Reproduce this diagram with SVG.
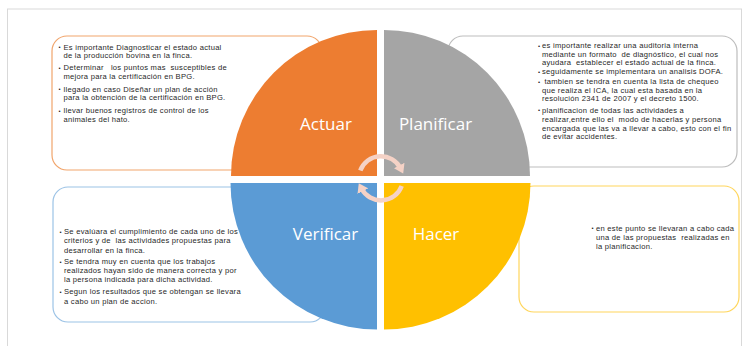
<svg xmlns="http://www.w3.org/2000/svg" width="743" height="346" viewBox="0 0 743 346">
<style>
.box{fill:#ffffff;stroke-width:1.2}
.t{font-family:"Liberation Sans",Arial,sans-serif;font-size:7.6px;letter-spacing:0.27px;fill:#1f1f1f}
.b{font-family:"Liberation Sans",Arial,sans-serif;font-size:6px;fill:#1f1f1f}
.lbl{font-family:"Open Sans","Liberation Sans",sans-serif;font-size:17px;fill:#ffffff;text-anchor:middle}
.cyc{fill:none;stroke:#f5d2c6;stroke-width:4.5}
</style>
<defs>
<marker id="ah" markerUnits="userSpaceOnUse" markerWidth="12" markerHeight="12" refX="3" refY="6" orient="auto">
<path d="M0,0 L9,6 L0,12 z" fill="#f5d2c6"/>
</marker>
</defs>
<rect x="7.5" y="9" width="734" height="345" fill="none" stroke="#d9d9d9" stroke-width="1"/>

<g id="box-actuar">
<rect class="box" x="52" y="36" width="270" height="134" rx="15" stroke="#f1a56c"/>
<text class="b"><tspan x="58.5" y="49">•</tspan><tspan x="58.5" y="69.5">•</tspan><tspan x="58.5" y="91">•</tspan><tspan x="58.5" y="112.5">•</tspan></text>
<text class="t">
<tspan x="63.5" y="49.5">Es importante Diagnosticar el estado actual</tspan>
<tspan x="63.5" y="58.3">de la producción bovina en la finca.</tspan>
<tspan x="63.5" y="70">Determinar&#160;&#160; los puntos mas&#160; susceptibles de</tspan>
<tspan x="63.5" y="78.8">mejora para la certificación en BPG.</tspan>
<tspan x="63.5" y="91.5">llegado en caso Diseñar un plan de acción</tspan>
<tspan x="63.5" y="100.3">para la obtención de la certificación en BPG.</tspan>
<tspan x="63.5" y="113">llevar buenos registros de control de los</tspan>
<tspan x="63.5" y="121.8">animales del hato.</tspan>
</text>
</g>

<g id="box-planificar">
<rect class="box" x="448" y="36" width="289" height="131" rx="15" stroke="#bdbdbd"/>
<text class="b"><tspan x="538" y="47.7">•</tspan><tspan x="538" y="73.7">•</tspan><tspan x="538" y="83.7">•</tspan><tspan x="538" y="112">•</tspan></text>
<text class="t">
<tspan x="542" y="48.2">es importante realizar una auditoria interna</tspan>
<tspan x="542" y="56.5">mediante un formato&#160; de diagnóstico, el cual nos</tspan>
<tspan x="542" y="64.8">ayudara&#160; establecer el estado actual de la finca.</tspan>
<tspan x="542" y="74.2">seguidamente se implementara un analisis DOFA.</tspan>
<tspan x="542" y="84.2">&#160;tambien se tendra en cuenta la lista de chequeo</tspan>
<tspan x="542" y="92.5">que realiza el ICA, la cual esta basada en la</tspan>
<tspan x="542" y="100.8">resolución 2341 de 2007 y el decreto 1500.</tspan>
<tspan x="542" y="112.5">planificacion de todas las actividades a</tspan>
<tspan x="542" y="121.8">realizar,entre ello el&#160; modo de hacerlas y persona</tspan>
<tspan x="542" y="130.8">encargada que las va a llevar a cabo, esto con el fin</tspan>
<tspan x="542" y="139.2">de evitar accidentes.</tspan>
</text>
</g>

<g id="box-verificar">
<rect class="box" x="53" y="187" width="272" height="135" rx="15" stroke="#9cc3e6"/>
<text class="b"><tspan x="59.5" y="233.7">•</tspan><tspan x="59.5" y="263.7">•</tspan><tspan x="59.5" y="293.7">•</tspan></text>
<text class="t">
<tspan x="64" y="234.2">Se evalúara el cumplimiento de cada uno de los</tspan>
<tspan x="64" y="243.2">criterios y de&#160; las actividades propuestas para</tspan>
<tspan x="64" y="252.5">desarrollar en la finca.</tspan>
<tspan x="64" y="264.2">Se tendra muy en cuenta que los trabajos</tspan>
<tspan x="64" y="273.2">realizados hayan sido de manera correcta y por</tspan>
<tspan x="64" y="281.8">la persona indicada para dicha actividad.</tspan>
<tspan x="64" y="294.2">Segun los resultados que se obtengan se llevara</tspan>
<tspan x="64" y="303.5">a cabo un plan de accion.</tspan>
</text>
</g>

<g id="box-hacer">
<rect class="box" x="519" y="186" width="220" height="126" rx="15" stroke="#ffd65c"/>
<text class="b"><tspan x="591.5" y="230.3">•</tspan></text>
<text class="t">
<tspan x="596" y="230.8">en este punto se llevaran a cabo cada</tspan>
<tspan x="596" y="239.8">una de las propuestas&#160; realizadas en</tspan>
<tspan x="596" y="249.2">la planificacion.</tspan>
</text>
</g>

<g id="actuar">
<path d="M377,176 L231,176 A146,146 0 0 1 377,30 Z" fill="#ed7d31"/>
<text class="lbl" x="326" y="130">Actuar</text>
</g>
<g id="planificar">
<path d="M384,176 L384,30 A146,146 0 0 1 530,176 Z" fill="#a5a5a5"/>
<text class="lbl" x="435.5" y="130">Planificar</text>
</g>
<g id="verificar">
<path d="M377,183 L377,329.5 A146.5,146.5 0 0 1 230.5,183 Z" fill="#5b9bd5"/>
<text class="lbl" x="325.5" y="240">Verificar</text>
</g>
<g id="hacer">
<path d="M384,183 L530.5,183 A146.5,146.5 0 0 1 384,329.5 Z" fill="#ffc000"/>
<text class="lbl" x="436" y="240">Hacer</text>
</g>

<g id="connectors">
<path class="cyc" d="M360.3,170.5 A22,22 0 0 1 400.5,168.2" marker-end="url(#ah)"/>
<path class="cyc" d="M401.7,186 A22,22 0 0 1 361.5,188.5" marker-end="url(#ah)"/>
</g>
</svg>
